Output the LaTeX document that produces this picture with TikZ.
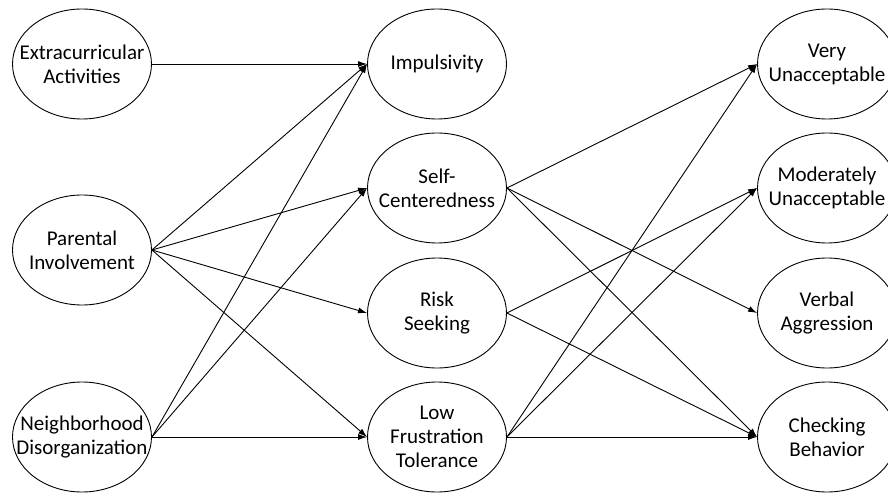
\documentclass[tikz,border=0pt]{standalone}
\usepackage{fontspec}
\setmainfont{Carlito}
\usetikzlibrary{shapes.geometric,arrows.meta}

\begin{document}
\begin{tikzpicture}[x=1pt,y=-1pt,
    construct/.style ={ellipse, draw, line width=0.9pt, inner sep = -22pt, minimum width=139pt, minimum height=110pt,
                       align=center, font=\fontsize{21}{24}\selectfont},
    effect/.style ={-{Latex[length=9pt,width=6pt]}, line width=0.9pt}]
   \useasboundingbox (0,0) rectangle (888,494);

   \node[construct] (EA) at (82,64)  {Extracurricular\\Activities};
   \node[construct] (PI) at (82,250) {Parental\\Involvement};
   \node[construct] (ND) at (82,437) {Neighborhood\\Disorganization};

   \node[construct] (IM) at (437,64)  {Impulsivity};
   \node[construct] (SC) at (437,188) {Self-\\Centeredness};
   \node[construct] (RS) at (437,313) {Risk\\Seeking};
   \node[construct] (LF) at (437,437) {Low\\Frustration\\Tolerance};

   \node[construct] (VU) at (827,64)  {Very\\Unacceptable};
   \node[construct] (MU) at (827,188) {Moderately\\Unacceptable};
   \node[construct] (VA) at (827,313) {Verbal\\Aggression};
   \node[construct] (CB) at (827,437) {Checking\\Behavior};

   \draw[effect] (EA.east) to (IM.west);
   \draw[effect] (PI.east) to (IM.west);
   \draw[effect] (PI.east) to (SC.west);
   \draw[effect] (PI.east) to (RS.west);
   \draw[effect] (PI.east) to (LF.west);
   \draw[effect] (ND.east) to (IM.west);
   \draw[effect] (ND.east) to (SC.west);
   \draw[effect] (ND.east) to (LF.west);

   \draw[effect] (SC.east) to (VU.west);
   \draw[effect] (SC.east) to (VA.west);
   \draw[effect] (SC.east) to (CB.west);
   \draw[effect] (RS.east) to (MU.west);
   \draw[effect] (RS.east) to (CB.west);
   \draw[effect] (LF.east) to (VU.west);
   \draw[effect] (LF.east) to (MU.west);
   \draw[effect] (LF.east) to (CB.west);
 \end{tikzpicture}
\end{document}
